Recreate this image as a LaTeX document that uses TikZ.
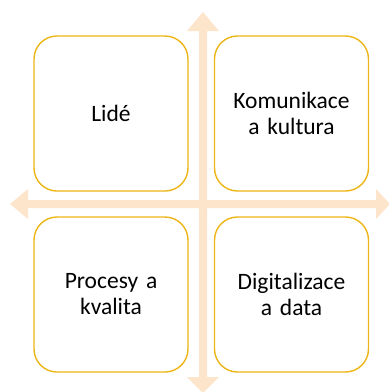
\documentclass[tikz,border=0pt]{standalone}
\usepackage{fontspec}
\setmainfont{Carlito}
\definecolor{arrowfill}{HTML}{FDE5CB}
\definecolor{boxline}{HTML}{EDB516}
\begin{document}
\begin{tikzpicture}[x=1pt,y=-1pt,
  quad/.style={draw=boxline,line width=1.4pt,rounded corners=23pt,fill=white,
    minimum width=154pt,minimum height=155pt,text width=140pt,align=center,
    font=\fontsize{23.5}{26}\selectfont,inner sep=0pt}]
\useasboundingbox (0,0) rectangle (389,392);
% cross arrows
\fill[arrowfill] (199,31) -- (187,31) -- (203,12) -- (219,31) -- (207,31)
  -- (207,377) -- (219,377) -- (203,393) -- (187,377) -- (199,377) -- cycle;
\fill[arrowfill] (28,200) -- (28,189) -- (10,204) -- (28,219) -- (28,208)
  -- (376,208) -- (376,219) -- (390,204) -- (376,189) -- (376,200) -- cycle;
% boxes
\node[quad] (lide) at (111,113.5) {Lidé};
\node[quad] (kom) at (291.5,113.5) {Komunikace\\a kultura};
\node[quad] (proc) at (111,294.5) {Procesy a\\kvalita};
\node[quad] (dig) at (291.5,294.5) {Digitalizace\\a data};
\end{tikzpicture}
\end{document}
